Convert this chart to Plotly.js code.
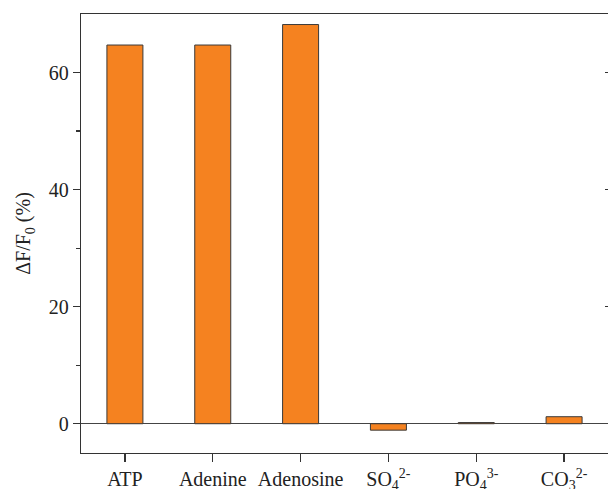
<!DOCTYPE html>
<html>
<head>
<meta charset="utf-8">
<script src="https://cdn.plot.ly/plotly-3.0.1.min.js"></script>
<style>html,body{margin:0;padding:0;background:#fff;}#chart{width:608px;height:489px;}</style>
</head>
<body>
<div id="chart"></div>
<script>
const categories = ["ATP", "Adenine", "Adenosine", "SO<sub>4</sub><sup>2-</sup>", "PO<sub>4</sub><sup>3-</sup>", "CO<sub>3</sub><sup>2-</sup>"];
const values = [64.7, 64.7, 68.2, -1.1, 0.2, 1.2];
const yTicks = [0, 20, 40, 60];
const yMinorTicks = [10, 30, 50];

const font = {family: "Liberation Serif, Times New Roman, serif", size: 20, color: "#222"};

const trace = {
  type: "bar",
  x: categories,
  y: values,
  width: 0.41,
  marker: {color: "#F58220", line: {color: "#3a3a3a", width: 1}},
  hoverinfo: "skip"
};

const ghost = {
  type: "scatter", x: [categories[0]], y: [0], yaxis: "y2",
  mode: "markers", marker: {opacity: 0}, hoverinfo: "skip", showlegend: false
};

const layout = {
  width: 608, height: 489,
  margin: {l: 81, r: 0, t: 14, b: 36},
  paper_bgcolor: "#fff", plot_bgcolor: "#fff",
  showlegend: false,
  font: font,
  xaxis: {
    type: "category",
    range: [-0.5, 5.5],
    showline: true, linecolor: "#333", linewidth: 1.2,
    mirror: true,
    ticks: "outside", ticklen: 8, tickcolor: "#333", tickwidth: 1.2,
    showgrid: false, zeroline: false,
    tickfont: font,
    automargin: false
  },
  yaxis: {
    range: [-5, 70],
    tickvals: yTicks,
    ticktext: yTicks.map(String),
    showline: true, linecolor: "#333", linewidth: 1.2,
    ticks: "outside", ticklen: 7, tickcolor: "#333", tickwidth: 1.2,
    minor: {tickvals: yMinorTicks, ticks: "outside", ticklen: 4, tickcolor: "#333", tickwidth: 1.2, showgrid: false},
    showgrid: false,
    zeroline: true, zerolinecolor: "#444", zerolinewidth: 1.2,
    tickfont: font,
    title: {text: "ΔF/F<sub>0</sub> (%)", font: font, standoff: 12},
    automargin: false
  },
  yaxis2: {
    overlaying: "y", side: "right",
    range: [-5, 70],
    tickvals: [20, 40, 60],
    showticklabels: false,
    ticks: "inside", ticklen: 3, tickcolor: "#333", tickwidth: 1.2,
    showline: false, showgrid: false, zeroline: false
  },
  bargap: 0.59
};

Plotly.newPlot("chart", [trace, ghost], layout, {displayModeBar: false, staticPlot: true});
</script>
</body>
</html>
